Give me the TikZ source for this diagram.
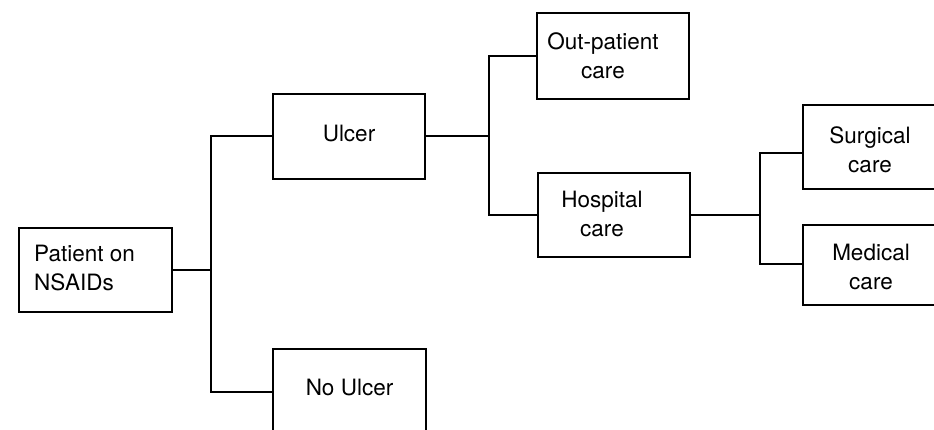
\documentclass[tikz,border=0pt]{standalone}
\usepackage{fontspec}
\setmainfont{TeX Gyre Heros}
\begin{document}
\begin{tikzpicture}[x=1pt,y=-1pt,
  box/.style={draw, line width=2pt, rectangle, inner sep=0pt},
  txt/.style={font=\fontsize{22.5}{29}\selectfont, align=center, inner sep=0pt},
  conn/.style={line width=2pt}]
\clip (0,0) rectangle (934,430);
\node[box, minimum width=153pt, minimum height=84pt,
  label={[txt, align=left, xshift=-11pt, yshift=2pt]center:Patient on\\NSAIDs}] (patient) at (95.5,270) {};
\node[box, minimum width=152pt, minimum height=85pt,
  label={[txt, yshift=3pt]center:Ulcer}] (ulcer) at (349,136.5) {};
\node[box, minimum width=153pt, minimum height=86pt,
  label={[txt, yshift=4pt]center:No Ulcer}] (noulcer) at (349.5,392) {};
\node[box, minimum width=152pt, minimum height=86pt,
  label={[txt, xshift=-10pt]center:Out-patient\\care}] (out) at (613,56) {};
\node[box, minimum width=152pt, minimum height=84pt,
  label={[txt, xshift=-12pt, yshift=1pt]center:Hospital\\care}] (hosp) at (614,215) {};
\node[box, minimum width=150pt, minimum height=84pt,
  label={[txt, xshift=-8pt, yshift=-3pt]center:Surgical\\care}] (surg) at (878,147) {};
\node[box, minimum width=150pt, minimum height=80pt,
  label={[txt, xshift=-7pt, yshift=-2pt]center:Medical\\care}] (med) at (878,265) {};
\draw[conn] (patient.east) -- ++(38,0) coordinate (j1);
\draw[conn] (ulcer.west) -| (j1) |- (noulcer.west);
\draw[conn] (ulcer.east) -- ++(63,0) coordinate (j2);
\draw[conn] (out.west) -| (j2) |- (hosp.west);
\draw[conn] (hosp.east) -- ++(69,0) coordinate (j3);
\draw[conn] ([yshift=-6pt]surg.west) -| (j3) |- ([yshift=1pt]med.west);
\end{tikzpicture}
\end{document}
